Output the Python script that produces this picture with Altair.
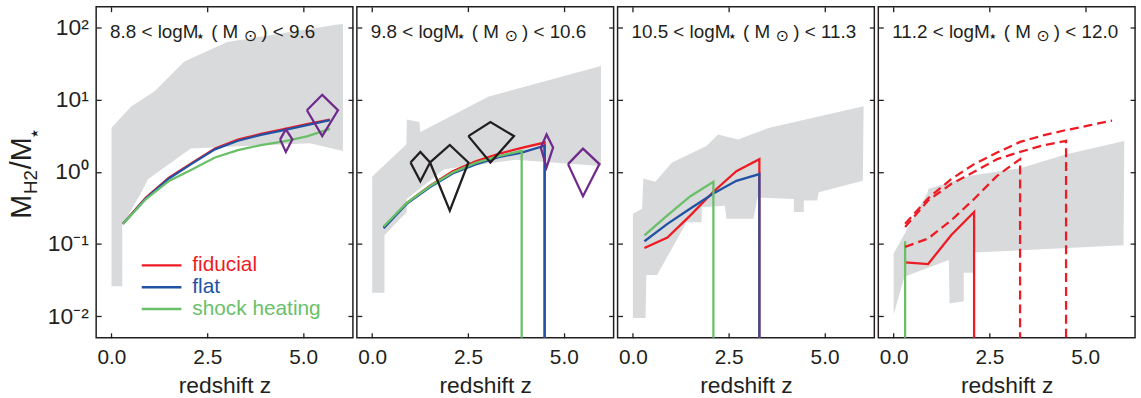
import altair as alt
import pandas as pd

# ---------------- data ----------------
PANEL_RANGES = [("8.8", "9.6"), ("9.8", "10.6"), ("10.5", "11.3"), ("11.2", "12.0")]
LEGEND_LABELS = ["fiducial", "flat", "shock heating"]

# observational range (grey polygons, vertices in order)
P1_GREY_Z = [0.0, 0.0, 0.52, 1.12, 1.90, 3.02, 5.95, 6.04, 6.04, 5.17, 2.07, 0.95, 0.78, 0.28, 0.28]
P1_GREY_V = [0.026, 4.1, 8.1, 13, 34, 63, 111, 111, 1.95, 2.5, 2.1, 0.79, 0.52, 0.18, 0.026]
P2_GREY_Z = [0.0, 0.0, 0.89, 0.905, 1.23, 1.257, 3.04, 5.97, 5.97, 3.73, 1.88, 0.9, 0.9, 0.32, 0.32]
P2_GREY_V = [0.021, 0.865, 2.4, 5.3, 4.93, 3.56, 11.1, 29.4, 1.21, 1.47, 1.09, 0.42, 0.277, 0.132, 0.021]
P3_GREY_Z = [0.0, 0.0, 0.24, 0.27, 0.585, 1.02, 1.92, 2.22, 2.74, 3.56, 6.02, 6.0, 4.85, 4.81, 4.46,
             4.46, 4.2, 4.2, 3.25, 3.15, 2.44, 2.40, 1.80, 1.79, 1.40, 0.63, 0.35, 0.33]
P3_GREY_V = [0.0094, 0.262, 0.307, 0.81, 0.73, 1.35, 2.28, 3.3, 2.82, 4.08, 8.1, 0.75, 0.52, 0.40, 0.40,
             0.277, 0.277, 0.42, 0.44, 0.224, 0.224, 0.34, 0.324, 0.20, 0.20, 0.037, 0.037, 0.0094]
P4_GREY_Z = [0.0, 0.0, 0.89, 0.90, 2.0, 3.30, 4.51, 6.02, 6.0, 2.1, 2.1, 1.83, 1.83, 1.46, 1.44, 0.28, 0.0]
P4_GREY_V = [0.0105, 0.074, 0.52, 0.578, 0.88, 1.12, 1.75, 2.68, 0.096, 0.076, 0.04, 0.04, 0.016, 0.015,
             0.06, 0.035, 0.0105]

# model curves (0 = drops to zero, drawn to the bottom of the panel)
P1_Z = [0.3, 0.9, 1.5, 2.1, 2.7, 3.3, 3.9, 4.5, 5.1, 5.7]
P1_FIDUCIAL = [0.19, 0.44, 0.83, 1.33, 2.1, 2.8, 3.35, 3.9, 4.6, 5.3]
P1_FLAT = [0.19, 0.43, 0.81, 1.30, 2.05, 2.7, 3.25, 3.8, 4.45, 5.2]
P1_SHOCK = [0.19, 0.42, 0.75, 1.08, 1.58, 2.0, 2.35, 2.65, 3.1, 3.95]

P2_Z = [0.3, 0.9, 1.5, 2.1, 2.7, 3.3, 3.9, 4.5, 4.5]
P2_FIDUCIAL = [0.17, 0.37, 0.64, 1.02, 1.40, 1.78, 2.15, 2.55, 0]
P2_FLAT = [0.165, 0.36, 0.61, 0.95, 1.27, 1.6, 1.85, 2.3, 0]
P2_SHOCK_Z = [0.3, 0.9, 1.5, 2.1, 2.7, 3.3, 3.9, 3.9]
P2_SHOCK = [0.175, 0.37, 0.63, 0.98, 1.33, 1.65, 1.95, 0]

P3_Z = [0.3, 0.9, 1.5, 2.1, 2.7, 3.3, 3.3]
P3_FIDUCIAL = [0.088, 0.123, 0.249, 0.53, 1.02, 1.50, 0]
P3_FLAT = [0.109, 0.19, 0.31, 0.50, 0.75, 0.93, 0]
P3_SHOCK_Z = [0.3, 0.9, 1.5, 2.1, 2.1]
P3_SHOCK = [0.132, 0.249, 0.459, 0.73, 0]

P4_FIDUCIAL_Z = [0.3, 0.9, 1.5, 2.1, 2.1]
P4_FIDUCIAL = [0.0555, 0.0527, 0.132, 0.277, 0]
P4_SHOCK_Z = [0.3, 0.3]
P4_SHOCK = [0.109, 0]
P4_DASH_A_Z = [0.3, 0.9, 1.5, 2.1, 2.7, 3.3, 3.3]
P4_DASH_A = [0.091, 0.119, 0.212, 0.42, 0.88, 1.5, 0]
P4_DASH_B_Z = [0.3, 0.9, 1.5, 2.1, 2.7, 3.3, 3.9, 4.5, 4.5]
P4_DASH_B = [0.172, 0.40, 0.678, 1.0, 1.5, 1.89, 2.33, 2.68, 0]
P4_DASH_C_Z = [0.3, 0.9, 1.5, 2.1, 2.7, 3.3, 3.9, 4.5, 5.1, 5.7]
P4_DASH_C = [0.19, 0.43, 0.79, 1.28, 1.85, 2.6, 3.2, 3.8, 4.4, 5.15]

# observations: diamonds (z_lo, z_c, z_hi, v_lo, v_mid, v_hi)
P1_OBS_PURPLE = [(4.40, 4.55, 4.72, 1.89, 2.82, 3.87), (5.10, 5.50, 5.91, 3.14, 7.15, 11.7)]
P2_OBS_BLACK = [(1.0, 1.257, 1.51, 0.738, 1.35, 1.89), (1.51, 2.025, 2.51, 0.29, 1.35, 2.36),
                (2.51, 3.085, 3.70, 1.35, 3.13, 4.89)]
P2_OBS_PURPLE = [(4.40, 4.55, 4.72, 1.15, 2.17, 3.3), (5.11, 5.50, 5.93, 0.459, 1.28, 2.1)]

# ---------------- styling ----------------
FONT = "Liberation Sans"
SYMFONT = "DejaVu Sans"
INK = "#231f20"
GREY = "#d9dadb"
RED = "#ed1c24"
BLUE = "#2152a4"
GREEN = "#6abf69"
PURPLE = "#6f2a8c"
X_DOMAIN = [-0.4, 6.3]
Y_DOMAIN = [0.005, 195]
FLOOR = 1e-4
W, H = 259, 334

xs = alt.Scale(domain=X_DOMAIN, nice=False, zero=False)
ys = alt.Scale(type="log", domain=Y_DOMAIN, nice=False)

Y_LABEL_EXPR = ("datum.value >= 50 ? '10²' : datum.value >= 5 ? '10¹' : datum.value >= 0.5 ? '10⁰'"
                " : datum.value >= 0.05 ? '10⁻¹' : '10⁻²'")


def tick_axis(orient, vals, labels=False, title=None, **kw):
    return alt.Axis(orient=orient, values=vals, labels=labels, title=title, offset=-5, tickSize=5,
                    domain=False, grid=False, tickColor=INK, tickWidth=1.3,
                    labelFont=FONT, titleFont=FONT, labelColor=INK, titleColor=INK,
                    titleFontWeight="normal", **kw)


def grey_layer(zs, vs, first):
    df = pd.DataFrame({"z": zs, "v": vs, "k": range(len(zs))})
    xa = tick_axis("bottom", [0, 2.5, 5], labels=True, title="redshift z", format=".1f",
                   labelFontSize=21, titleFontSize=23, labelPadding=9, titlePadding=7)
    if first:
        ya = tick_axis("left", [0.01, 0.1, 1, 10, 100], labels=True, labelExpr=Y_LABEL_EXPR,
                       labelFontSize=23, labelPadding=8)
    else:
        ya = tick_axis("left", [0.01, 0.1, 1, 10, 100])
    poly = alt.Chart(df).mark_line(fill=GREY, stroke=GREY, strokeWidth=0, clip=True).encode(
        x=alt.X("z:Q", scale=xs, axis=xa),
        y=alt.Y("v:Q", scale=ys, axis=ya),
        order="k:Q",
    )
    carrier = alt.Chart(df).mark_point(opacity=0).encode(
        x=alt.X("z:Q", scale=xs, axis=tick_axis("top", [0, 2.5, 5])),
        y=alt.Y("v:Q", scale=ys, axis=tick_axis("right", [0.01, 0.1, 1, 10, 100])),
    )
    return [poly, carrier]


def curve(zs, vs, color, dash=None):
    df = pd.DataFrame({"z": zs, "v": [v if v > 0 else FLOOR for v in vs], "k": range(len(zs))})
    kw = dict(color=color, strokeWidth=2.3, clip=True)
    if dash:
        kw["strokeDash"] = dash
    return alt.Chart(df).mark_line(**kw).encode(
        x=alt.X("z:Q", scale=xs, axis=None),
        y=alt.Y("v:Q", scale=ys, axis=None),
        order="k:Q",
    )


def diamonds(obs, color):
    rows = []
    for i, (zl, zc, zh, lo, mid, hi) in enumerate(obs):
        pts = [(zl, mid), (zc, hi), (zh, mid), (zc, lo), (zl, mid)]
        for k, (z, v) in enumerate(pts):
            rows.append({"id": i, "k": k, "z": z, "v": v})
    df = pd.DataFrame(rows)
    return alt.Chart(df).mark_line(color=color, strokeWidth=2.3, clip=True, strokeJoin="miter").encode(
        x=alt.X("z:Q", scale=xs, axis=None),
        y=alt.Y("v:Q", scale=ys, axis=None),
        detail="id:N",
        order="k:Q",
    )


def label(txt, x, y, size, color=INK, align="left", baseline="alphabetic", angle=0, font=FONT):
    df = pd.DataFrame({"t": [txt]})
    return alt.Chart(df).mark_text(font=font, fontSize=size, color=color, align=align,
                                   baseline=baseline, angle=angle).encode(
        text="t:N", x=alt.value(x), y=alt.value(y))


def panel_title(lo, hi):
    shift = 10.6 * (len(lo) - 3)
    return [
        label(f"{lo} < logM", 14, 32, 19),
        label("★", 105 + shift, 30.5, 8, align="center", baseline="middle", font=SYMFONT),
        label("(", 116 + shift, 32, 19),
        label("M", 127.5 + shift, 32, 19),
        label("⊙", 155.5 + shift, 29.5, 16, align="center", baseline="middle", font=SYMFONT),
        label(f") < {hi}", 166.5 + shift, 32, 19),
    ]


def make_panel(layers):
    return alt.layer(*layers).resolve_axis(x="independent", y="independent").properties(width=W, height=H)


p1 = make_panel(
    grey_layer(P1_GREY_Z, P1_GREY_V, True)
    + [curve(P1_Z, P1_FIDUCIAL, RED), curve(P1_Z, P1_FLAT, BLUE), curve(P1_Z, P1_SHOCK, GREEN),
       diamonds(P1_OBS_PURPLE, PURPLE)]
    + panel_title(*PANEL_RANGES[0])
    + [
        label("M", -65.5, 214, 29, angle=270),
        label("H2", -60, 189, 19, angle=270),
        label("/M", -65.5, 164, 29, angle=270),
        label("★", -62, 128, 10, angle=270, align="center", baseline="middle", font=SYMFONT),
    ]
    + [
        alt.Chart(pd.DataFrame({"a": [0]})).mark_rule(color=c, strokeWidth=2.4).encode(
            x=alt.value(46), x2=alt.value(86), y=alt.value(yy))
        for c, yy in zip([RED, BLUE, GREEN], [261, 283, 305])
    ]
    + [label(t, 97, yy, 21, color=c, baseline="middle")
       for t, c, yy in zip(LEGEND_LABELS, [RED, BLUE, GREEN], [261, 283, 305])]
)

p2 = make_panel(
    grey_layer(P2_GREY_Z, P2_GREY_V, False)
    + [curve(P2_Z, P2_FIDUCIAL, RED), curve(P2_Z, P2_FLAT, BLUE), curve(P2_SHOCK_Z, P2_SHOCK, GREEN),
       diamonds(P2_OBS_BLACK, INK), diamonds(P2_OBS_PURPLE, PURPLE)]
    + panel_title(*PANEL_RANGES[1])
)

p3 = make_panel(
    grey_layer(P3_GREY_Z, P3_GREY_V, False)
    + [curve(P3_Z, P3_FIDUCIAL, RED), curve(P3_Z, P3_FLAT, BLUE), curve(P3_SHOCK_Z, P3_SHOCK, GREEN)]
    + panel_title(*PANEL_RANGES[2])
)

p4 = make_panel(
    grey_layer(P4_GREY_Z, P4_GREY_V, False)
    + [curve(P4_FIDUCIAL_Z, P4_FIDUCIAL, RED), curve(P4_SHOCK_Z, P4_SHOCK, GREEN),
       curve(P4_DASH_A_Z, P4_DASH_A, RED, [9, 5]), curve(P4_DASH_B_Z, P4_DASH_B, RED, [9, 5]),
       curve(P4_DASH_C_Z, P4_DASH_C, RED, [9, 5])]
    + panel_title(*PANEL_RANGES[3])
)

chart = alt.hconcat(p1, p2, p3, p4, spacing=0).configure_view(
    stroke=INK, strokeWidth=1.5
).properties(
    padding={"left": 7, "top": 3, "right": 4, "bottom": 0},
    background="white",
)

chart.save("out.html", embed_options={"renderer": "svg", "actions": False})
